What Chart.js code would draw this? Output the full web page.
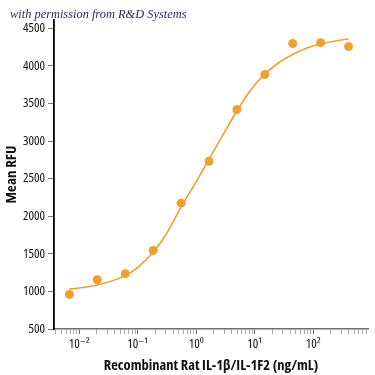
<!DOCTYPE html>
<html>
<head>
<meta charset="utf-8">
<script src="https://cdn.jsdelivr.net/npm/chart.js@4"></script>
<style>
  html, body { margin: 0; padding: 0; background: #fff; }
  canvas { display: block; }
</style>
</head>
<body>
<canvas id="c" width="375" height="375"></canvas>
<script>
// ---- data ----
const doseNgMl = [0.00677, 0.0203, 0.061, 0.183, 0.549, 1.65, 4.94, 14.8, 44.4, 133, 400];
const meanRFU  = [960, 1155, 1236, 1544, 2174, 2731, 3420, 3885, 4298, 4309, 4256];

// fitted curve
const curveDose = [0.00677, 0.0203, 0.061, 0.1, 0.183, 0.3, 0.549, 1, 1.65, 3, 4.94, 8.5, 14.8, 25, 44.4, 80, 133, 250, 400];
const curveRFU  = [1030, 1085, 1210, 1320, 1520, 1750, 2120, 2460, 2760, 3110, 3400, 3680, 3890, 4035, 4150, 4240, 4290, 4335, 4358];

const xMajorTicks = [0.01, 0.1, 1, 10, 100];
const xMajorLabels = ['10\u207B\u00B2', '10\u207B\u00B9', '10\u2070', '10\u00B9', '10\u00B2'];
const yTicks = [500, 1000, 1500, 2000, 2500, 3000, 3500, 4000, 4500];

const xTitle = 'Recombinant Rat IL-1\u03B2/IL-1F2 (ng/mL)';
const yTitle = 'Mean RFU';
const creditText = 'with permission from R&D Systems';

const ORANGE = '#EFA030';
const FONT = '"Open Sans", "DejaVu Sans", sans-serif';

const X_MIN = 0.0037, X_MAX = 860;

function isMajor(v) {
  return xMajorTicks.some(m => Math.abs(v - m) / m < 1e-6);
}

const creditPlugin = {
  id: 'credit',
  afterDraw(chart) {
    const ctx = chart.ctx;
    ctx.save();
    ctx.font = 'italic 12.4px "Liberation Serif", "DejaVu Serif", serif';
    ctx.fillStyle = '#1d2a5c';
    ctx.textBaseline = 'alphabetic';
    ctx.textAlign = 'left';
    ctx.fillText(creditText, 10, 18);
    ctx.restore();
  }
};

new Chart(document.getElementById('c'), {
  type: 'scatter',
  data: {
    datasets: [
      {
        type: 'line',
        data: curveDose.map((d, i) => ({ x: d, y: curveRFU[i] })),
        borderColor: ORANGE,
        borderWidth: 1.6,
        pointRadius: 0,
        fill: false,
        cubicInterpolationMode: 'monotone'
      },
      {
        type: 'scatter',
        data: doseNgMl.map((d, i) => ({ x: d, y: meanRFU[i] })),
        backgroundColor: ORANGE,
        borderColor: ORANGE,
        borderWidth: 0,
        pointRadius: 4.5,
        showLine: false
      }
    ]
  },
  options: {
    responsive: false,
    animation: false,
    devicePixelRatio: 1,
    layout: { padding: { top: 20, right: 7, left: 0, bottom: 0 } },
    plugins: { legend: { display: false }, tooltip: { enabled: false } },
    scales: {
      x: {
        type: 'logarithmic',
        min: X_MIN,
        max: X_MAX,
        afterFit(s) { s.height = 46; },
        afterBuildTicks(s) {
          const t = [];
          for (let e = -3; e <= 2; e++) {
            for (let m = 1; m <= 9; m++) {
              const v = +(m * Math.pow(10, e)).toPrecision(6);
              if (v >= X_MIN && v <= X_MAX) t.push({ value: v, major: isMajor(v) });
            }
          }
          s.ticks = t;
        },
        border: { display: true, color: '#6e6e6e', width: 1.5 },
        grid: {
          drawOnChartArea: false,
          drawTicks: true,
          tickLength: 5,
          tickWidth: 1,
          tickColor: (c) => (c.tick && isMajor(c.tick.value)) ? '#666' : '#aaa'
        },
        ticks: {
          autoSkip: false,
          maxRotation: 0,
          padding: 2,
          color: '#111',
          font: { family: FONT, size: 13, weight: 'condensed' },
          callback: (v) => {
            const i = xMajorTicks.findIndex(m => Math.abs(v - m) / m < 1e-6);
            return i >= 0 ? xMajorLabels[i] : '';
          }
        },
        title: {
          display: true,
          text: xTitle,
          color: '#111',
          font: { family: FONT, size: 14.5, weight: 'bold condensed' },
          padding: { top: 1, bottom: 0 }
        }
      },
      y: {
        type: 'linear',
        min: 500,
        max: 4610,
        afterFit(s) { s.width = 54; },
        afterBuildTicks(s) {
          s.ticks = yTicks.map(v => ({ value: v }));
        },
        border: { display: true, color: '#000', width: 1.8 },
        grid: {
          drawOnChartArea: false,
          drawTicks: true,
          tickLength: 6,
          tickColor: '#777',
          tickWidth: 1
        },
        ticks: {
          padding: 3,
          color: '#111',
          font: { family: FONT, size: 13, weight: 'condensed' },
          callback: (v) => String(v)
        },
        title: {
          display: true,
          text: yTitle,
          color: '#111',
          font: { family: FONT, size: 15, weight: 'bold condensed' },
          padding: { top: 3, bottom: 0 }
        }
      }
    }
  },
  plugins: [creditPlugin]
});
</script>
</body>
</html>
